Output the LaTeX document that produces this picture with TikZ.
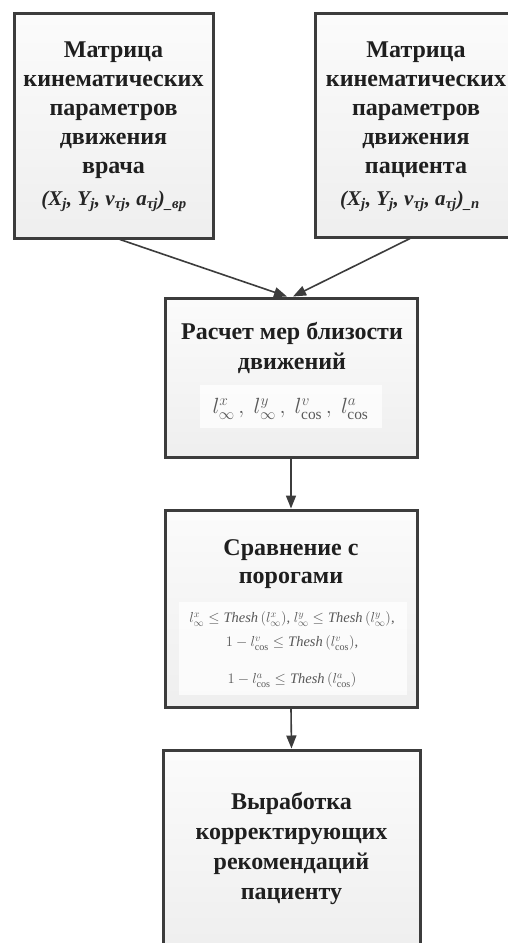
\RequirePackage{fix-cm}
\documentclass[tikz,border=0pt]{standalone}
\usepackage{fontspec}
\setmainfont{Liberation Serif}
\usetikzlibrary{arrows.meta}
\definecolor{edge}{HTML}{3C3C3C}
\begin{document}
\begin{tikzpicture}[x=1pt,y=-1pt,
  box/.style={draw=edge, line width=3pt, top color=gray!3, bottom color=gray!13, rectangle, inner sep=0pt},
  title/.style={font=\bfseries\fontsize{24}{29}\selectfont, align=center, text=black!88, inner sep=0pt},
  arr/.style={draw=edge, line width=1.6pt, -{Triangle[length=13pt,width=10pt]}},
  innerbox/.style={fill=white, fill opacity=0.75, inner sep=0pt, rectangle},
  vec/.style={font=\bfseries\itshape\fontsize{21}{24}\selectfont, text=black!85, inner sep=0pt},
  formula/.style={text=black!65, inner sep=0pt, align=center}
]
\useasboundingbox (0,0) rectangle (508,943);
\clip (0,0) rectangle (508,943);
\fill[white] (0,0) rectangle (508,943);
% boxes
\node[box, minimum width=199pt, minimum height=225pt] (m1) at (113.5,125.5) {};
\node[box, minimum width=199pt, minimum height=224pt] (m2) at (414.5,125) {};
\node[box, minimum width=252pt, minimum height=159pt] (calc) at (291,377.5) {};
\node[box, minimum width=252pt, minimum height=197pt] (cmp) at (291,608.5) {};
\node[box, minimum width=257pt, minimum height=200pt] (rec) at (291.5,850) {};
% texts box 1
\node[title] (m1t) at (113.5,110) {Матрица\\кинематических\\параметров\\движения\\врача};
\node[vec] (m1f) at (114,201) {(X\textsubscript{j}, Y\textsubscript{j}, v\textsubscript{τj}, a\textsubscript{τj})\textsubscript{\_вр}};
% texts box 2
\node[title] (m2t) at (416,110) {Матрица\\кинематических\\параметров\\движения\\пациента};
\node[vec] (m2f) at (410,201) {(X\textsubscript{j}, Y\textsubscript{j}, v\textsubscript{τj}, a\textsubscript{τj})\textsubscript{\_п}};
% calc box
\node[title, font=\bfseries\fontsize{24}{30}\selectfont] (calct) at (292,348) {Расчет мер близости\\движений};
\node[innerbox, minimum width=182pt, minimum height=43pt] (calci) at (291,406.5) {};
\node[formula, font=\fontsize{22}{24}\selectfont] (calcf) at (290.5,409) {$l^{x}_{\infty}\,,\ l^{y}_{\infty}\,,\ l^{v}_{\cos}\,,\ l^{a}_{\cos}$};
% compare box
\node[title, font=\bfseries\fontsize{24}{28}\selectfont] (cmpt) at (291,564) {Сравнение с\\порогами};
\node[innerbox, minimum width=228pt, minimum height=93pt] (cmpi) at (292.5,648.5) {};
\node[formula, font=\fontsize{14.5}{24}\selectfont] (cmpf1) at (292,631) {$l^{x}_{\infty} \le \mathit{Thesh}\,(l^{x}_{\infty})$, $l^{y}_{\infty} \le \mathit{Thesh}\,(l^{y}_{\infty})$,\\$1 - l^{v}_{\cos} \le \mathit{Thesh}\,(l^{v}_{\cos})$,};
\node[formula, font=\fontsize{14.5}{24}\selectfont] (cmpf2) at (292,680) {$1 - l^{a}_{\cos} \le \mathit{Thesh}\,(l^{a}_{\cos})$};
% recommendation box
\node[title, font=\bfseries\fontsize{24}{30}\selectfont] (rect) at (291.5,848) {Выработка\\корректирующих\\рекомендаций\\пациенту};
% connectors
\draw[arr] ([xshift=6.5pt]m1.south) -- ([xshift=-4pt]calc.north);
\draw[arr] ([xshift=-4.5pt]m2.south) -- ([xshift=2pt]calc.north);
\draw[arr] (calc.south) -- (cmp.north);
\draw[arr] (cmp.south) -- (rec.north);
\end{tikzpicture}
\end{document}
